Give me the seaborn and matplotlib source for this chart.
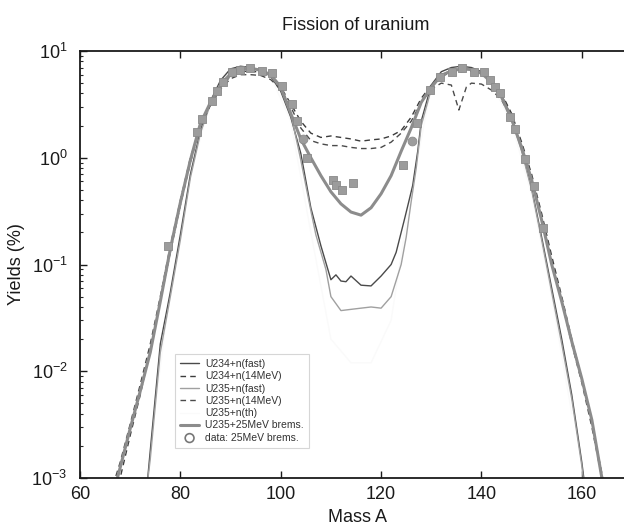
import numpy as np
import pandas as pd
import matplotlib
matplotlib.use("Agg")
import matplotlib.pyplot as plt
import seaborn as sns

# ---------------- data ----------------
# U234+n(fast)
a_u234_fast = [72, 73.5, 74, 76, 78, 80, 82, 84, 86, 88, 90, 92, 94, 96, 98, 100, 102, 104, 106, 108,
               110, 111, 112, 113, 114, 116, 118, 120, 122, 123, 124.7, 126.3, 127.3, 128, 130, 132, 134,
               136, 138, 140, 142, 144, 146, 148, 150, 152, 154, 156, 158, 160, 161]
y_u234_fast = [2e-4, 1e-3, 1.8e-3, 0.018, 0.055, 0.19, 0.7, 1.8, 3.4, 5.3, 6.8, 7.2, 7.0, 6.6, 5.8, 4.2, 2.4, 1.1, 0.34, 0.15,
               0.072, 0.08, 0.07, 0.069, 0.078, 0.064, 0.063, 0.078, 0.1, 0.13, 0.27, 0.55, 1.15, 2.2, 4.8, 6.4, 7.0,
               7.2, 7.0, 6.4, 5.3, 3.9, 2.4, 1.2, 0.52, 0.18, 0.06, 0.02, 0.006, 1.4e-3, 6e-4]

# U234+n(14MeV)
a_u234_14 = [66, 68, 70, 72, 74, 76, 78, 80, 82, 84, 86, 88, 90, 92, 94, 96, 98, 100, 102, 104, 106, 108,
             110, 112, 114, 116, 118, 120, 122, 124, 126, 128, 130, 132, 134, 136, 138, 140, 142, 144, 146,
             148, 150, 152, 154, 156, 158, 160, 162, 164, 166]
y_u234_14 = [6e-4, 1.0e-3, 2.5e-3, 6e-3, 0.016, 0.045, 0.13, 0.36, 0.9, 2.0, 3.2, 4.6, 5.8, 6.4, 6.5, 6.3, 5.8, 4.6, 3.2, 2.2, 1.7, 1.55,
             1.6, 1.55, 1.5, 1.43, 1.47, 1.5, 1.6, 1.8, 2.4, 3.6, 4.8, 5.8, 6.3, 6.4, 6.5, 6.1, 5.3, 4.0, 2.6,
             1.4, 0.7, 0.3, 0.12, 0.05, 0.02, 0.0085, 0.0033, 1.1e-3, 3.5e-4]

# U235+n(fast)
a_u235_fast = [72, 74, 76, 78, 80, 82, 84, 86, 88, 90, 92, 94, 96, 98, 100, 102, 104, 106, 107, 109,
               110, 112, 114, 116, 118, 120, 122, 124, 125, 126, 127, 128, 130, 132, 134, 136, 138, 140,
               142, 144, 146, 148, 150, 152, 154, 156, 158, 160, 161]
y_u235_fast = [2.5e-4, 1.5e-3, 0.015, 0.05, 0.17, 0.65, 1.7, 3.2, 5.0, 6.3, 6.8, 6.9, 6.6, 5.9, 4.4, 2.6, 0.95, 0.32, 0.19, 0.09,
               0.05, 0.037, 0.038, 0.039, 0.04, 0.039, 0.05, 0.1, 0.18, 0.39, 0.8, 2.0, 4.4, 6.0, 6.6, 6.8, 6.8, 6.3,
               5.2, 3.8, 2.3, 1.15, 0.5, 0.17, 0.055, 0.018, 0.0055, 1.3e-3, 5e-4]

# U235+n(14MeV)
a_u235_14 = [66, 68, 70, 72, 74, 76, 78, 80, 82, 84, 86, 88, 90, 92, 94, 96, 98, 100, 102, 104, 106, 108,
             110, 112, 114, 116, 118, 120, 122, 124, 126, 128, 130, 132, 134, 135.5, 137, 138, 140, 142, 144,
             146, 148, 150, 152, 154, 156, 158, 160, 162, 164, 166]
y_u235_14 = [7e-4, 1.4e-3, 3.2e-3, 7.5e-3, 0.018, 0.05, 0.15, 0.4, 1.0, 2.0, 3.1, 4.4, 5.5, 6.0, 6.0, 5.9, 5.4, 4.4, 3.0, 1.9, 1.45, 1.35,
             1.3, 1.3, 1.25, 1.22, 1.22, 1.25, 1.4, 1.7, 2.2, 3.3, 4.4, 5.0, 4.8, 2.8, 4.6, 5.0, 4.9, 4.3, 3.5,
             2.3, 1.3, 0.62, 0.27, 0.11, 0.045, 0.018, 0.0078, 0.003, 1e-3, 3e-4]

# U235+n(th)  (printed almost white in the reference)
a_u235_th = [74, 78, 82, 86, 90, 94, 98, 102, 106, 110, 114, 118, 122, 126, 130, 134, 138, 142, 146, 150, 154, 158]
y_u235_th = [2e-3, 0.06, 0.7, 3.3, 6.2, 6.6, 5.8, 2.2, 0.2, 0.02, 0.012, 0.012, 0.03, 0.5, 4.5, 6.7, 6.8, 5.0, 2.1, 0.45, 0.05, 0.004]

# U235+25MeV brems.
a_brems = [66, 68, 70, 72, 74, 76, 78, 80, 82, 84, 86, 88, 90, 92, 94, 96, 98, 100, 102, 104, 106, 108,
           110, 112, 114, 116, 118, 120, 122, 124, 126, 128, 130, 132, 134, 136, 138, 140, 142, 144, 146,
           148, 150, 152, 154, 156, 158, 160, 162, 164, 166]
y_brems = [5.5e-4, 1.25e-3, 2.9e-3, 6.5e-3, 0.015, 0.045, 0.14, 0.38, 0.95, 2.1, 3.3, 4.7, 6.0, 6.7, 6.9, 6.6, 6.0, 4.6, 2.6, 1.5, 1.0, 0.68,
           0.48, 0.37, 0.31, 0.29, 0.34, 0.46, 0.68, 1.15, 1.9, 3.3, 4.6, 5.9, 6.5, 6.8, 6.7, 6.2, 5.1, 3.7, 2.3,
           1.25, 0.62, 0.26, 0.1, 0.045, 0.019, 0.0085, 0.0035, 0.001, 3e-4]

# data: 25MeV brems.
a_data_sq = [77.5, 83.3, 84.3, 86.3, 87.3, 88.5, 90.3, 91.9, 93.9, 96.3, 98.2, 100.2, 102.2, 103.2, 105.2,
             110.4, 111.0, 112.2, 114.4, 124.3, 127.1, 129.7, 131.7, 134.1, 136.1, 138.5, 140.5, 141.7,
             142.7, 143.7, 145.7, 146.7, 148.7, 150.5, 152.2]
y_data_sq = [0.15, 1.75, 2.3, 3.4, 4.2, 5.1, 6.3, 6.7, 6.9, 6.5, 6.2, 4.7, 3.2, 2.2, 1.0,
             0.62, 0.55, 0.5, 0.58, 0.85, 2.1, 4.3, 5.7, 6.4, 6.9, 6.3, 6.4, 5.4,
             4.6, 4.0, 2.4, 1.84, 0.97, 0.54, 0.22]
a_data_ci = [104.4, 126.2]
y_data_ci = [1.5, 1.45]

x_ticks = [60, 80, 100, 120, 140, 160]

# ---------------- styling ----------------
sns.set_theme(style="ticks")
plt.rcParams['font.family'] = ['Liberation Sans', 'DejaVu Sans']
plt.rcParams['mathtext.fontset'] = 'custom'
plt.rcParams['mathtext.rm'] = 'Liberation Sans'
plt.rcParams['mathtext.it'] = 'Liberation Sans:italic'

fig = plt.figure(figsize=(6.24, 5.28), dpi=100)
ax = fig.add_axes([80 / 624, 50 / 528, 552 / 624, 427 / 528])

curves = [
    ("U234+n(fast)", a_u234_fast, y_u234_fast, dict(color="#4a4a4a", lw=1.0, linestyle="-")),
    ("U234+n(14MeV)", a_u234_14, y_u234_14, dict(color="#3c3c3c", lw=1.0, linestyle=(0, (4, 3)))),
    ("U235+n(fast)", a_u235_fast, y_u235_fast, dict(color="#a0a0a0", lw=1.0, linestyle="-")),
    ("U235+n(14MeV)", a_u235_14, y_u235_14, dict(color="#4a4a4a", lw=1.0, linestyle=(0, (4, 3)))),
    ("U235+n(th)", a_u235_th, y_u235_th, dict(color="#fafafa", lw=1.0, linestyle="-")),
    ("U235+25MeV brems.", a_brems, y_brems, dict(color="#8c8c8c", lw=2.2, linestyle="-")),
]
for name, a, y, st in curves:
    df = pd.DataFrame({"A": a, "Y": y})
    sns.lineplot(data=df, x="A", y="Y", ax=ax, sort=False, estimator=None,
                 label=name, zorder=1 if name == "U235+n(th)" else 2, **st)

sns.scatterplot(x=a_data_sq, y=y_data_sq, ax=ax, marker="s", s=40, color="#9c9c9c",
                edgecolor="#8a8a8a", linewidth=0.6, zorder=5)
sns.scatterplot(x=a_data_ci, y=y_data_ci, ax=ax, marker="o", s=40, color="#9c9c9c",
                edgecolor="#8a8a8a", linewidth=0.6, zorder=5, label="data: 25MeV brems.")

ax.set_yscale("log")
ax.set_xlim(60, 170)
ax.set_ylim(1e-3, 10)
ax.set_xticks(x_ticks)
ax.set_xticklabels([str(t) for t in x_ticks])

for sp in ax.spines.values():
    sp.set_color("#1a1a1a")
    sp.set_linewidth(1.3)
    sp.set_visible(True)

ax.tick_params(which="major", direction="in", top=True, right=True, length=5, width=1.0,
               labelsize=13, colors="#1a1a1a")
ax.tick_params(which="minor", direction="in", top=True, right=True, length=2.5, width=0.8)
ax.tick_params(axis="x", which="minor", bottom=False, top=False)
ax.tick_params(axis="x", which="major", pad=6)
ax.tick_params(axis="y", which="major", pad=9)

ax.set_xlabel("Mass A", fontsize=13, color="#1a1a1a")
ax.set_ylabel("Yields (%)", fontsize=13, color="#1a1a1a")
ax.xaxis.set_label_coords((357 - 80) / 552, (478 - 509) / 427)
ax.yaxis.set_label_coords((25 - 80) / 552, 0.5)
ax.set_title("Fission of uranium", fontsize=13, color="#1a1a1a", y=(478 - 26) / 427,
             va="center", pad=0)

leg = ax.legend(loc="lower left", bbox_to_anchor=((175 - 80) / 552, (478 - 448) / 427),
                fontsize=7.5, frameon=True, fancybox=False, edgecolor="#cccccc",
                handlelength=1.8, labelspacing=0.22, borderpad=0.5, handletextpad=0.6,
                borderaxespad=0)
leg.get_frame().set_linewidth(0.8)
for t in leg.get_texts():
    t.set_color("#333333")
# legend marker for the data entry drawn as an open circle, as in the reference
leg.legend_handles[-1].set_facecolor("none")
leg.legend_handles[-1].set_edgecolor("#777777")
leg.legend_handles[-1].set_linewidth(1.2)

fig.savefig("out.png", dpi=100)
